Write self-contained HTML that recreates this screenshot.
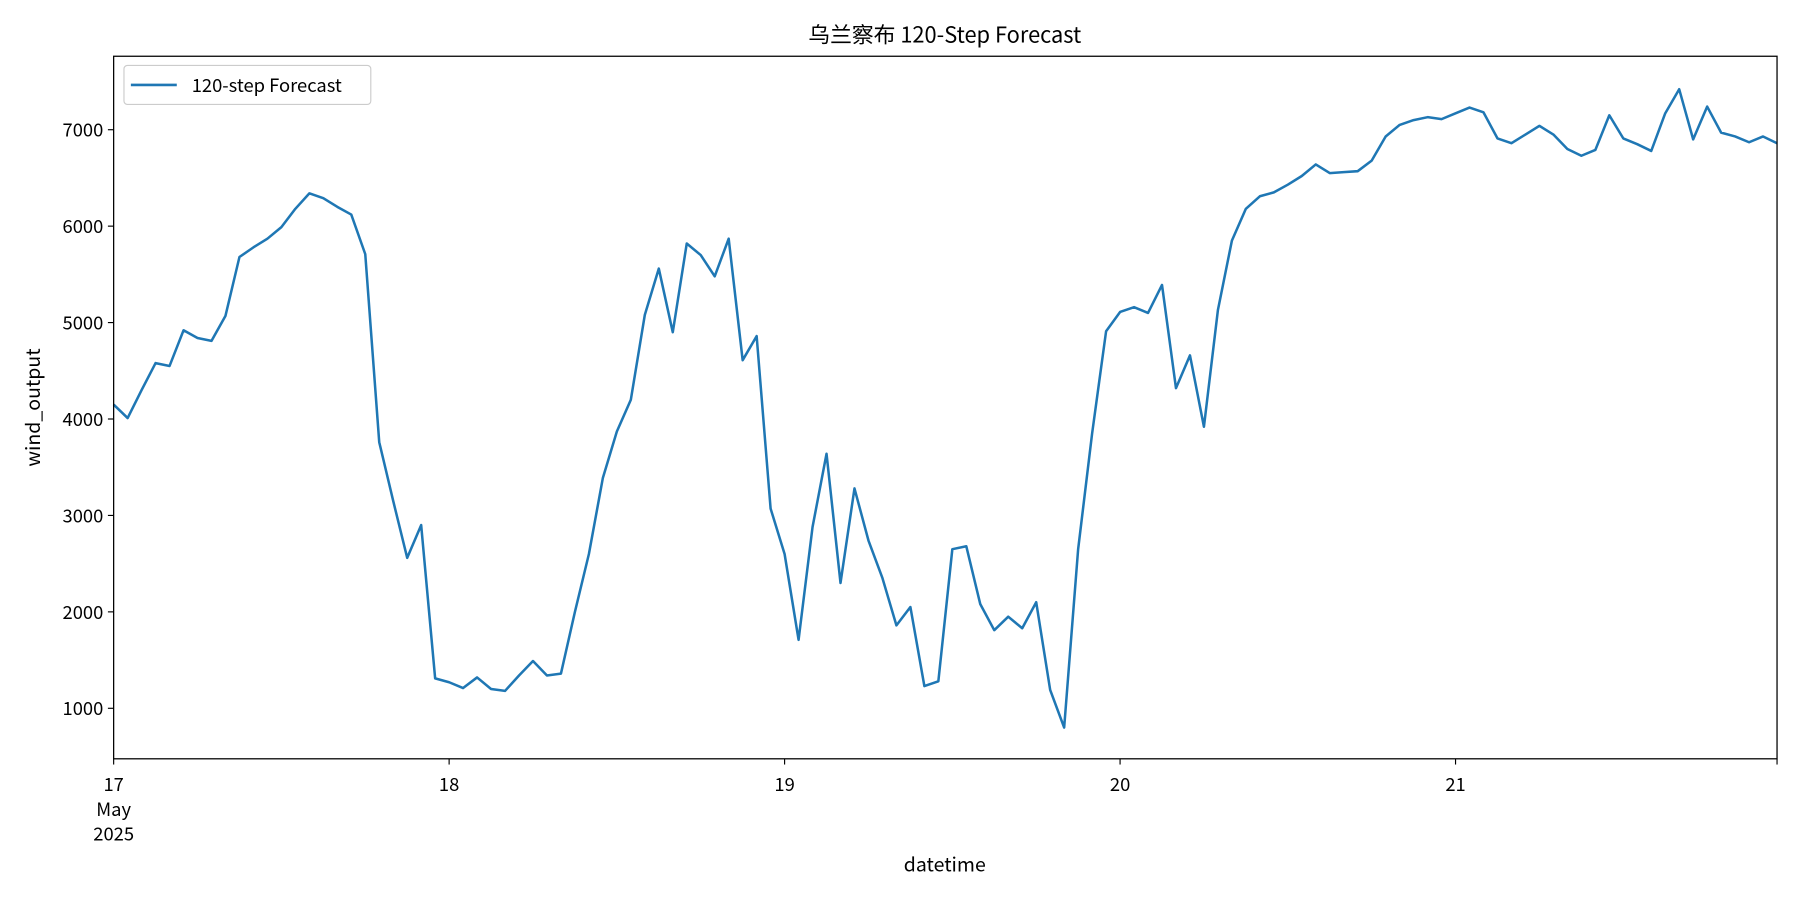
<!DOCTYPE html>
<html><head><meta charset="utf-8"><style>
html,body{margin:0;padding:0;background:#fff;}
svg{display:block;}
text{font-family:"Noto Sans CJK SC","Liberation Sans",sans-serif;fill:#000;}
</style></head><body>
<svg id="chart" width="1800" height="900" viewBox="0 0 1568 784" xmlns="http://www.w3.org/2000/svg">
<rect x="0" y="0" width="1568" height="784" fill="#fff"/>
<text x="823" y="37" font-size="19" text-anchor="middle">乌兰察布 120-Step Forecast</text>
<g id="yaxis"></g>
<g id="xaxis"></g>
<path id="line" fill="none" stroke="#1f77b4" stroke-width="2.2" stroke-linejoin="round"/>
<rect x="99" y="49" width="1449" height="612" fill="none" stroke="#000" stroke-width="1.1"/>
<text x="823" y="759" font-size="17" text-anchor="middle">datetime</text>
<text x="0" y="0" font-size="17" text-anchor="middle" transform="translate(35,355) rotate(-90)">wind_output</text>
<g>
<rect x="108" y="57" width="215" height="34" rx="3" fill="#fff" stroke="#ccc"/>
<line x1="114" y1="74" x2="154" y2="74" stroke="#1f77b4" stroke-width="2.2"/>
<text x="167" y="80" font-size="16">120-step Forecast</text>
</g>
</svg>
<script>
const values = [4150,4010,4300,4580,4550,4920,4840,4810,5070,5680,5780,5870,5990,6180,6340,6290,6200,6120,5710,3760,3150,2560,2900,1310,1270,1210,1320,1200,1180,1340,1490,1340,1360,2000,2600,3390,3870,4200,5080,5560,4900,5820,5700,5480,5870,4610,4860,3070,2600,1710,2880,3640,2300,3280,2740,2350,1860,2050,1230,1280,2650,2680,2080,1810,1950,1830,2100,1190,800,2650,3850,4910,5110,5160,5100,5390,4320,4660,3920,5130,5850,6180,6310,6350,6430,6520,6640,6550,6560,6570,6680,6930,7050,7100,7130,7110,7170,7230,7180,6910,6860,6950,7040,6950,6800,6730,6790,7150,6910,6850,6780,7170,7420,6900,7240,6970,6930,6870,6930,6860];
const yTicks = [1000,2000,3000,4000,5000,6000,7000];
const xTickHours = [0,24,48,72,96];
const xTickLabels = ["17","18","19","20","21"];
const NS="http://www.w3.org/2000/svg";
const X0=99, X1=1548, hours=119;
function xs(h){return X0+h*(X1-X0)/hours;}
function ys(v){return 617-(v-1000)*0.084;}
let d="";
values.forEach((v,i)=>{d+=(i?"L":"M")+xs(i).toFixed(2)+","+ys(v).toFixed(2);});
document.getElementById('line').setAttribute('d',d);
const ya=document.getElementById('yaxis');
yTicks.forEach(t=>{
 const y=ys(t);
 const l=document.createElementNS(NS,'line');
 
 
 l.setAttribute('x1',94);l.setAttribute('x2',99);l.setAttribute('y1',y);l.setAttribute('y2',y);l.setAttribute('stroke','#000');
 ya.appendChild(l);
 const tx=document.createElementNS(NS,'text');
 
 
 tx.setAttribute('x',90);tx.setAttribute('y',y+6);tx.setAttribute('font-size','16');tx.setAttribute('text-anchor','end');
 tx.textContent=t;ya.appendChild(tx);
});
const xa=document.getElementById('xaxis');
xTickHours.forEach((h,i)=>{
 const x=xs(h);
 const l=document.createElementNS(NS,'line');
 
 
 l.setAttribute('x1',x);l.setAttribute('x2',x);l.setAttribute('y1',661);l.setAttribute('y2',666);l.setAttribute('stroke','#000');
 xa.appendChild(l);
 const tx=document.createElementNS(NS,'text');
 
 
 tx.setAttribute('x',x);tx.setAttribute('y',689);tx.setAttribute('font-size','16');tx.setAttribute('text-anchor','middle');
 tx.textContent=xTickLabels[i];xa.appendChild(tx);
});
[["May",711],["2025",732]].forEach(p=>{
 const tx=document.createElementNS(NS,'text');
 
 
 tx.setAttribute('x',xs(0));tx.setAttribute('y',p[1]);tx.setAttribute('font-size','16');tx.setAttribute('text-anchor','middle');
 tx.textContent=p[0];xa.appendChild(tx);
});
const endTick=document.createElementNS(NS,'line');


endTick.setAttribute('x1',X1);endTick.setAttribute('x2',X1);endTick.setAttribute('y1',661);endTick.setAttribute('y2',666);endTick.setAttribute('stroke','#000');
xa.appendChild(endTick);
</script>
</body></html>
